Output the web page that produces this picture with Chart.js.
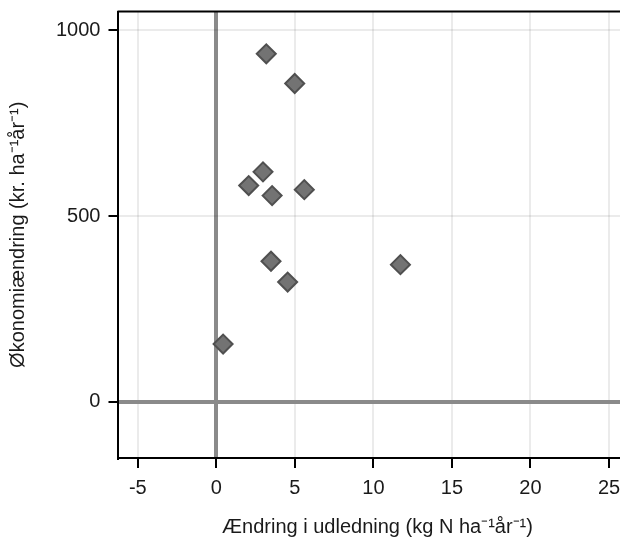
<!DOCTYPE html>
<html lang="da">
<head>
  <meta charset="UTF-8" />
  <title>Økonomiændring mod ændring i udledning</title>
  <script src="https://cdn.jsdelivr.net/npm/chart.js"></script>
  <style>
    html, body {
      margin: 0;
      padding: 0;
      background: #fff;
      overflow: hidden;
    }
    #wrap {
      width: 648px;
      height: 540px;
    }
  </style>
</head>
<body>
  <div id="wrap"><canvas id="scatter"></canvas></div>

  <script>
    // change in N leaching (kg N / ha / yr)
    const udledning = [3.18, 4.99, 2.97, 2.06, 3.55, 5.6, 3.48, 4.54, 11.72, 0.43];
    // change in economy (kr / ha / yr)
    const oekonomi = [937, 857, 619, 582, 555, 571, 378, 322, 369, 155];

    const xTicks = [-5, 0, 5, 10, 15, 20, 25];
    const yTicks = [0, 500, 1000];

    const xTitle = 'Ændring i udledning (kg N ha\u207B\u00B9år\u207B\u00B9)';
    const yTitle = 'Økonomiændring (kr. ha\u207B\u00B9år\u207B\u00B9)';

    const points = udledning.map((x, i) => ({ x: x, y: oekonomi[i] }));

    const font = { family: 'Liberation Sans, Arial, sans-serif', size: 20 };
    const zeroOrGrid = (ctx) => ctx.tick && ctx.tick.value === 0 ? '#8a8a8a' : 'rgba(0,0,0,0.08)';
    const zeroOrGridWidth = (ctx) => ctx.tick && ctx.tick.value === 0 ? 4 : 2;

    // black frame line along the top of the plot area
    const topBorder = {
      id: 'topBorder',
      afterDraw(chart) {
        const { ctx, chartArea } = chart;
        ctx.save();
        ctx.strokeStyle = '#000';
        ctx.lineWidth = 2;
        ctx.beginPath();
        ctx.moveTo(chartArea.left - 1, chartArea.top);
        ctx.lineTo(chartArea.right, chartArea.top);
        ctx.stroke();
        ctx.restore();
      }
    };

    new Chart(document.getElementById('scatter'), {
      type: 'scatter',
      data: {
        datasets: [{
          data: points,
          pointStyle: 'rectRot',
          pointRadius: 9.5,
          pointHoverRadius: 9.5,
          backgroundColor: '#737373',
          borderColor: '#505050',
          borderWidth: 2
        }]
      },
      options: {
        responsive: true,
        maintainAspectRatio: false,
        animation: false,
        layout: { padding: { top: 11, right: 0, left: 6, bottom: 1 } },
        plugins: {
          legend: { display: false },
          tooltip: { enabled: false }
        },
        scales: {
          x: {
            type: 'linear',
            min: -6.23,
            max: 26.75,
            afterBuildTicks: (scale) => { scale.ticks = xTicks.map(v => ({ value: v })); },
            border: { color: '#000', width: 2 },
            grid: {
              color: zeroOrGrid,
              lineWidth: zeroOrGridWidth,
              tickColor: '#000',
              tickWidth: 2,
              tickLength: 10
            },
            ticks: {
              color: '#1a1a1a',
              font: font,
              padding: 8,
              maxRotation: 0
            },
            title: {
              display: true,
              text: xTitle,
              color: '#1a1a1a',
              font: font,
              padding: { top: 7, bottom: 0 }
            }
          },
          y: {
            type: 'linear',
            min: -152,
            max: 1051,
            afterBuildTicks: (scale) => { scale.ticks = yTicks.map(v => ({ value: v })); },
            border: { color: '#000', width: 2 },
            grid: {
              color: zeroOrGrid,
              lineWidth: zeroOrGridWidth,
              tickColor: '#000',
              tickWidth: 2,
              tickLength: 10
            },
            ticks: {
              color: '#1a1a1a',
              font: { family: font.family, size: font.size, lineHeight: 0.25 },
              padding: 8,
              callback: (v) => String(v)
            },
            title: {
              display: true,
              text: yTitle,
              color: '#1a1a1a',
              font: font,
              padding: { top: 0, bottom: 18 }
            }
          }
        }
      },
      plugins: [topBorder]
    });
  </script>
</body>
</html>
